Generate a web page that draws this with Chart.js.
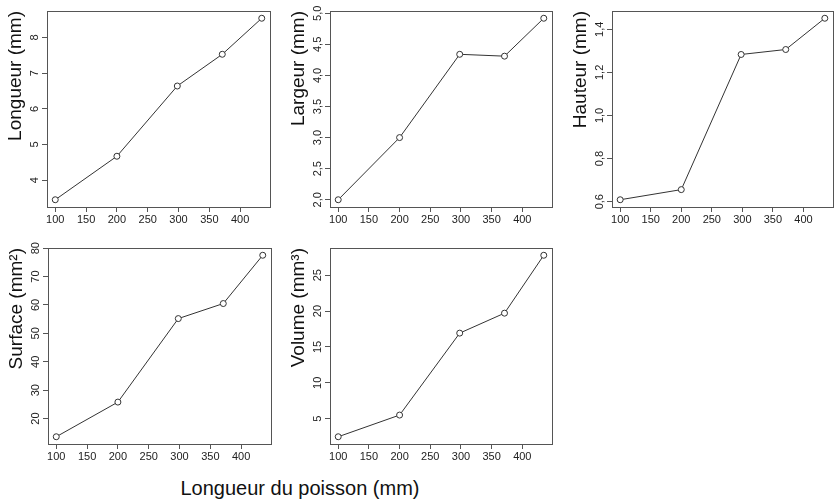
<!DOCTYPE html>
<html><head><meta charset="utf-8">
<script src="https://cdn.jsdelivr.net/npm/chart.js@4"></script>
<style>
html,body{margin:0;padding:0;background:#fff;}
body{width:838px;height:500px;position:relative;overflow:hidden;font-family:"Liberation Sans",Arial,sans-serif;}
canvas{position:absolute;}
#xtitle{position:absolute;left:0;width:600px;top:478px;line-height:20px;font-size:20px;text-align:center;color:#111;white-space:nowrap;}
</style></head><body>
<div id="xtitle">Longueur du poisson (mm)</div>
<script>
// ---- data ----
const fishLength = [100, 200, 298, 371, 435];
const longueur = [3.45, 4.67, 6.64, 7.53, 8.54];
const largeur = [2.00, 3.00, 4.34, 4.31, 4.92];
const hauteur = [0.609, 0.656, 1.283, 1.306, 1.451];
const surface = [13.6, 25.8, 55.2, 60.5, 77.5];
const volume = [2.49, 5.51, 16.93, 19.71, 27.78];

const xTicks = [100, 150, 200, 250, 300, 350, 400];
const longueurTicks = [4, 5, 6, 7, 8];
const largeurTicks = [2.0, 2.5, 3.0, 3.5, 4.0, 4.5, 5.0];
const hauteurTicks = [0.6, 0.8, 1.0, 1.2, 1.4];
const surfaceTicks = [20, 30, 40, 50, 60, 70, 80];
const volumeTicks = [5, 10, 15, 20, 25];

const titles = ['Longueur (mm)', 'Largeur (mm)', 'Hauteur (mm)', 'Surface (mm\u00B2)', 'Volume (mm\u00B3)'];
const series = [longueur, largeur, hauteur, surface, volume];
const yTickSets = [longueurTicks, largeurTicks, hauteurTicks, surfaceTicks, volumeTicks];
const yDecimals = [0, 1, 1, 0, 0];

// ---- layout (plot boxes: left, top, right, bottom) ----
const boxes = [
  [47, 11, 272, 207],
  [330, 11, 554, 207],
  [612, 11, 835, 207],
  [48, 248, 273, 444],
  [330, 248, 554, 444]
];

const FONT = '"Liberation Sans", Arial, Helvetica, sans-serif';
const AXIS_COL = '#555';
const Y_W = 48, X_H = 24, PAD_T = 12, PAD_R = 3, TICK_LEN = 5;

function rRange(arr) {
  const lo = Math.min(...arr), hi = Math.max(...arr), d = (hi - lo) * 0.04;
  return [lo - d, hi + d];
}
function fmt(v, dec) { return dec ? v.toFixed(dec).replace('.', ',') : String(v); }

const boxPlugin = {
  id: 'frame',
  afterDraw(chart) {
    const { ctx, chartArea: a } = chart;
    ctx.save();
    ctx.strokeStyle = AXIS_COL;
    ctx.lineWidth = 1;
    ctx.strokeRect(Math.round(a.left) + 0.5, Math.round(a.top) + 0.5,
      Math.round(a.right) - Math.round(a.left), Math.round(a.bottom) - Math.round(a.top));
    ctx.restore();
  }
};

const mctx = document.createElement('canvas').getContext('2d');
mctx.font = '11px ' + FONT;

const xr = rRange(fishLength);

series.forEach((ys, i) => {
  const b = boxes[i];
  const w = (b[2] - b[0]) + Y_W + PAD_R;
  const h = (b[3] - b[1]) + PAD_T + X_H;
  const c = document.createElement('canvas');
  c.width = w; c.height = h;
  c.style.left = (b[0] - Y_W) + 'px';
  c.style.top = (b[1] - PAD_T) + 'px';
  c.style.width = w + 'px'; c.style.height = h + 'px';
  document.body.appendChild(c);

  const yr = rRange(ys);
  const ticks = yTickSets[i];
  const dec = yDecimals[i];
  const widest = Math.max(...ticks.map(t => mctx.measureText(fmt(t, dec)).width));
  const yPad = 7 - widest / 2;

  new Chart(c, {
    type: 'scatter',
    data: {
      datasets: [{
        data: fishLength.map((x, k) => ({ x: x, y: ys[k] })),
        showLine: true,
        borderColor: '#333',
        borderWidth: 1,
        pointRadius: 3,
        pointBorderWidth: 1,
        pointBackgroundColor: '#fff',
        pointBorderColor: '#333',
        tension: 0,
        clip: false
      }]
    },
    options: {
      responsive: false,
      devicePixelRatio: 1,
      animation: false,
      events: [],
      layout: { padding: { top: PAD_T, right: PAD_R, left: 0, bottom: 0 } },
      plugins: { legend: { display: false }, tooltip: { enabled: false } },
      scales: {
        x: {
          type: 'linear', position: 'bottom',
          min: xr[0], max: xr[1],
          afterBuildTicks: s => { s.ticks = xTicks.map(v => ({ value: v })); },
          afterFit: s => { s.height = X_H; },
          grid: { display: true, drawOnChartArea: false, drawTicks: true, tickLength: TICK_LEN, color: AXIS_COL, tickColor: AXIS_COL, lineWidth: 1 },
          border: { display: false },
          ticks: { autoSkip: false, maxRotation: 0, minRotation: 0, padding: 1, color: '#222', font: { family: FONT, size: 11 }, callback: v => String(v) }
        },
        y: {
          type: 'linear', position: 'left',
          min: yr[0], max: yr[1],
          afterBuildTicks: s => { s.ticks = ticks.map(v => ({ value: v })); },
          afterFit: s => { s.width = Y_W; },
          grid: { display: true, drawOnChartArea: false, drawTicks: true, tickLength: TICK_LEN, color: AXIS_COL, tickColor: AXIS_COL, lineWidth: 1 },
          border: { display: false },
          ticks: { autoSkip: false, minRotation: 90, maxRotation: 90, crossAlign: 'center', padding: yPad, color: '#222', font: { family: FONT, size: 11 }, callback: v => fmt(v, dec) },
          title: { display: true, text: titles[i], align: 'end', color: '#111', font: { family: FONT, size: 19 }, padding: { top: 5, bottom: 0 } }
        }
      }
    },
    plugins: [boxPlugin]
  });
});
</script>
</body></html>
